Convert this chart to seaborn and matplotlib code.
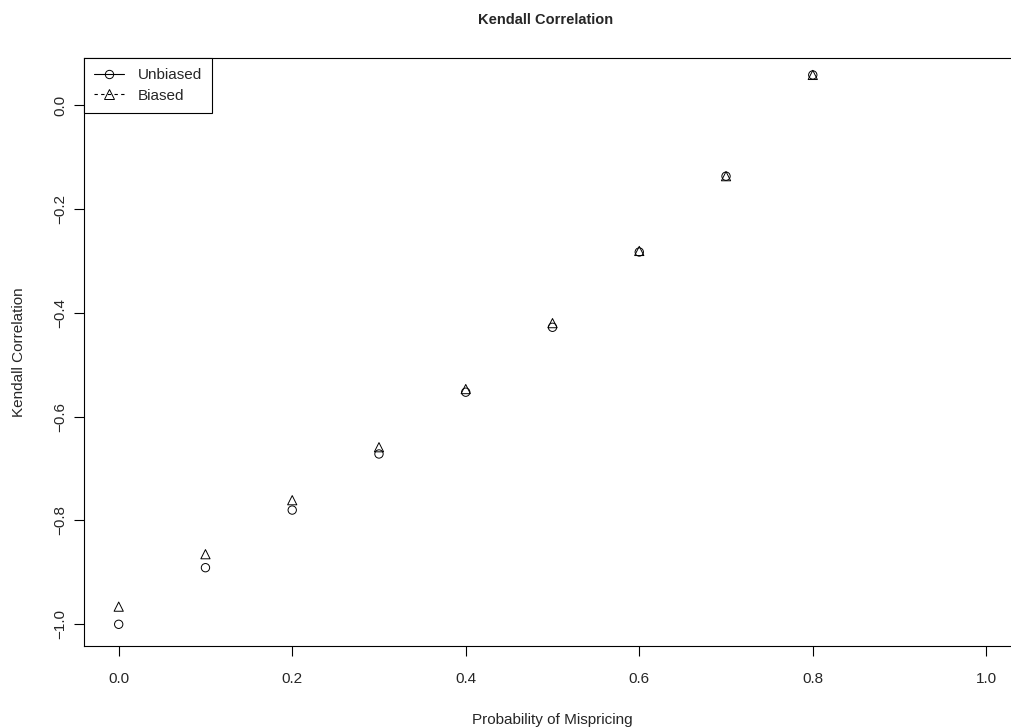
import numpy as np
import pandas as pd
import matplotlib
matplotlib.use("Agg")
import matplotlib.pyplot as plt
from matplotlib.lines import Line2D
import seaborn as sns

prob = [0.0, 0.1, 0.2, 0.3, 0.4, 0.5, 0.6, 0.7, 0.8]
unbiased = [-1.000, -0.891, -0.780, -0.672, -0.553, -0.428, -0.283, -0.137, 0.058]
biased = [-0.966, -0.865, -0.761, -0.659, -0.547, -0.420, -0.281, -0.137, 0.058]
xticks = [0.0, 0.2, 0.4, 0.6, 0.8, 1.0]
yticks = [-1.0, -0.8, -0.6, -0.4, -0.2, 0.0]

sns.set_style("white")
plt.rcParams['font.family'] = ['Liberation Sans', 'DejaVu Sans']

W, H = 1012, 728
fig = plt.figure(figsize=(W / 100, H / 100), dpi=100)
left, right, top, bottom = 84, 1021, 58, 646
ax = fig.add_axes([left / W, 1 - bottom / H, (right - left) / W, (bottom - top) / H])

df = pd.DataFrame({"p": prob, "u": unbiased, "b": biased})
sns.scatterplot(data=df, x="p", y="u", marker="o", s=36, facecolor="none",
                edgecolor="black", linewidth=0.7, ax=ax, zorder=3)
sns.scatterplot(data=df, x="p", y="b", marker="^", s=44, facecolor="none",
                edgecolor="black", linewidth=0.7, ax=ax, zorder=3)

ax.set_xlim(-0.04, 1.04)
ax.set_ylim(-1.0418, 0.0906)
ax.set_xticks(xticks)
ax.set_xticklabels([f"{v:.1f}" for v in xticks])
ax.set_yticks(yticks)
ax.set_yticklabels([f"{v:.1f}".replace("-", "\u2212") for v in yticks], rotation=90, va="center")
ax.tick_params(axis="both", direction="out", length=7, width=0.8, color="black",
               labelsize=11, bottom=True, left=True)
ax.tick_params(axis="x", pad=12)
ax.tick_params(axis="y", pad=5)
for s in ax.spines.values():
    s.set_color("black")
    s.set_linewidth(0.8)

ax.set_xlabel("Probability of Mispricing", fontsize=11, labelpad=19)
ax.set_ylabel("Kendall Correlation", fontsize=11, labelpad=20)
fig.text((left + 1008) / 2 / W, 1 - 20 / H, "Kendall Correlation", ha="center",
         va="center", fontsize=10.5, fontweight="bold")

handles = [
    Line2D([0], [0], color="black", lw=0.8, ls="-", marker="o", markersize=6,
           markerfacecolor="none", markeredgewidth=0.7),
    Line2D([0], [0], color="black", lw=0.8, ls=(0, (3, 3)), marker="^", markersize=6.5,
           markerfacecolor="none", markeredgewidth=0.7),
]
leg = ax.legend(handles, ["Unbiased", "Biased"], loc="upper left", borderaxespad=0,
                fancybox=False, framealpha=1, edgecolor="black", fontsize=11,
                handlelength=2.0, handletextpad=0.9, borderpad=0.65, labelspacing=0.45)
leg.get_frame().set_linewidth(0.8)

fig.savefig("out.png", dpi=100, facecolor="white")
